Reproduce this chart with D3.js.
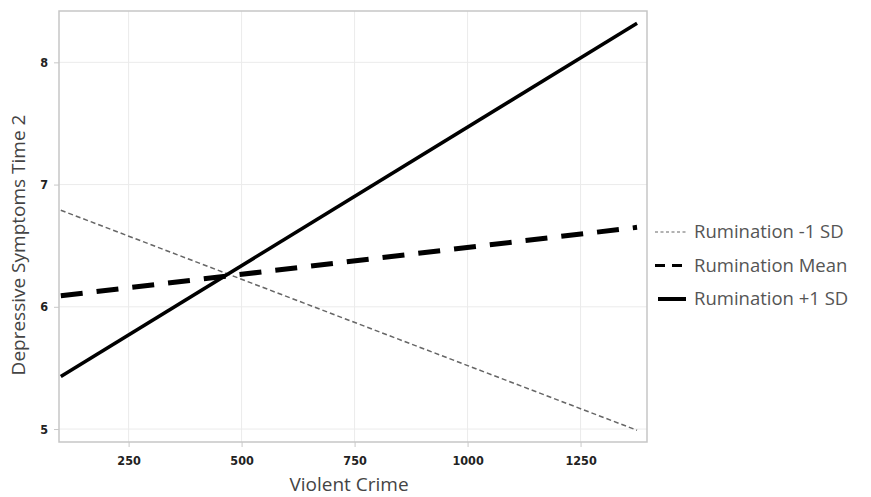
<!DOCTYPE html>
<html>
<head>
<meta charset="utf-8">
<script src="https://cdn.jsdelivr.net/npm/d3@7"></script>
<style>
  body { margin: 0; background: #ffffff; }
</style>
</head>
<body>
<script>
// data
const crime = [100, 1375];
const ruminationLow = [6.79, 4.99];
const ruminationMean = [6.09, 6.65];
const ruminationHigh = [5.43, 8.32];
const xTicks = [250, 500, 750, 1000, 1250];
const yTicks = [5, 6, 7, 8];
const seriesNames = ["Rumination -1 SD", "Rumination Mean", "Rumination +1 SD"];

const W = 871, H = 497;
const m = { left: 59, top: 11, right: 647, bottom: 442 };

const svg = d3.select("body").append("svg")
  .attr("width", W)
  .attr("height", H);

const x = d3.scaleLinear().domain([96, 1397]).range([m.left, m.right]);
const y = d3.scaleLinear().domain([4.894, 8.42]).range([m.bottom, m.top]);

// gridlines
svg.append("g")
  .selectAll("line")
  .data(xTicks)
  .join("line")
  .attr("x1", d => x(d)).attr("x2", d => x(d))
  .attr("y1", m.top).attr("y2", m.bottom)
  .attr("stroke", "#ebebeb").attr("stroke-width", 1);

svg.append("g")
  .selectAll("line")
  .data(yTicks)
  .join("line")
  .attr("x1", m.left).attr("x2", m.right)
  .attr("y1", d => y(d)).attr("y2", d => y(d))
  .attr("stroke", "#ebebeb").attr("stroke-width", 1);

// axes
const xAxis = svg.append("g")
  .attr("transform", `translate(0,${m.bottom})`)
  .call(d3.axisBottom(x).tickValues(xTicks).tickSize(5).tickPadding(9).tickFormat(d3.format("d")));
const yAxis = svg.append("g")
  .attr("transform", `translate(${m.left},0)`)
  .call(d3.axisLeft(y).tickValues(yTicks).tickSize(5).tickPadding(6).tickFormat(d3.format("d")));

[xAxis, yAxis].forEach(a => {
  a.select(".domain").remove();
  a.selectAll(".tick line").attr("stroke", "#c8c8c8");
  a.selectAll(".tick text")
    .attr("fill", "#222")
    .style("font-family", "'DejaVu Sans Condensed', 'DejaVu Sans', sans-serif")
    .style("font-weight", "bold")
    .style("font-size", "12.5px");
});

// frame
svg.append("rect")
  .attr("x", m.left).attr("y", m.top)
  .attr("width", m.right - m.left).attr("height", m.bottom - m.top)
  .attr("fill", "none").attr("stroke", "#c6c6c6").attr("stroke-width", 1.5);

// lines
const styles = [
  { stroke: "#666", width: 1.5, dash: "5,3" },
  { stroke: "#000", width: 5, dash: "22,14" },
  { stroke: "#000", width: 3.5, dash: null }
];
const series = [ruminationLow, ruminationMean, ruminationHigh];

const line = d3.line().x(d => x(d[0])).y(d => y(d[1]));

series.forEach((s, i) => {
  svg.append("path")
    .datum(crime.map((c, j) => [c, s[j]]))
    .attr("d", line)
    .attr("fill", "none")
    .attr("stroke", styles[i].stroke)
    .attr("stroke-width", styles[i].width)
    .attr("stroke-dasharray", styles[i].dash);
});

// legend
const legendLine = [
  { width: 1.2, dash: "3,2.5" },
  { width: 3, dash: "10,7" },
  { width: 4, dash: null }
];
const lg = svg.append("g").attr("transform", "translate(655,232)");
seriesNames.forEach((name, i) => {
  const row = lg.append("g").attr("transform", `translate(0,${i * 33.5})`);
  row.append("line")
    .attr("x1", i === 2 ? 3 : 0).attr("x2", 31)
    .attr("y1", 0).attr("y2", 0)
    .attr("stroke", styles[i].stroke)
    .attr("stroke-width", legendLine[i].width)
    .attr("stroke-dasharray", legendLine[i].dash);
  row.append("text")
    .attr("x", 39).attr("y", 6)
    .attr("fill", "#555")
    .style("font-family", "'Open Sans', 'Noto Sans', sans-serif")
    .style("font-size", "18.5px")
    .text(name);
});

// axis titles
svg.append("text")
  .attr("x", 349).attr("y", 491)
  .attr("text-anchor", "middle")
  .attr("fill", "#444")
  .style("font-family", "'Open Sans', 'Noto Sans', sans-serif")
  .style("font-size", "19px")
  .text("Violent Crime");

svg.append("text")
  .attr("transform", "translate(25,245) rotate(-90)")
  .attr("text-anchor", "middle")
  .attr("fill", "#444")
  .style("font-family", "'Open Sans', 'Noto Sans', sans-serif")
  .style("font-size", "19px")
  .text("Depressive Symptoms Time 2");
</script>
</body>
</html>
